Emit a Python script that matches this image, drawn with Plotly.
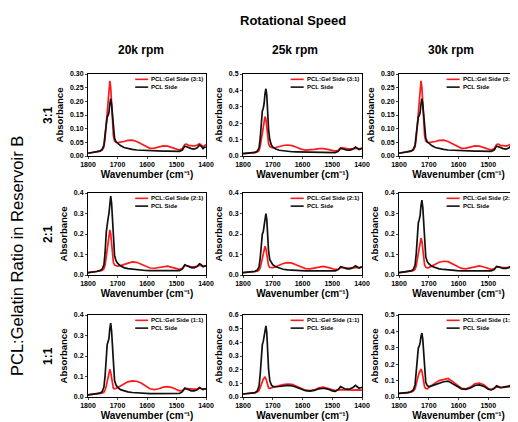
import plotly.graph_objects as go

# ---------------- data ----------------
WN = [1800, 1785, 1770, 1760, 1752,
      1746, 1742, 1738, 1735, 1732,
      1729, 1726, 1723, 1720, 1717,
      1714, 1710, 1705, 1700, 1690,
      1678, 1665, 1650, 1635, 1620,
      1605, 1590, 1575, 1560, 1545,
      1530, 1515, 1500, 1490, 1480,
      1472, 1466, 1458, 1450, 1440,
      1430, 1422, 1416, 1410, 1405,
      1400]

speeds = ["20k rpm", "25k rpm", "30k rpm"]
ratios = ["3:1", "2:1", "1:1"]

# row 1 (3:1)
gel_20k_31 = [.010, .012, .015, .018, .022, .033, .065, .115, .155, .190,
              .230, .275, .250, .190, .120, .075, .055, .050, .049, .050,
              .053, .057, .058, .053, .044, .034, .028, .029, .033, .037,
              .036, .031, .025, .022, .027, .042, .043, .038, .038, .036,
              .040, .045, .040, .034, .038, .042]
pcl_20k_31 = [.010, .012, .015, .018, .024, .040, .080, .125, .143, .148,
              .160, .190, .210, .188, .140, .090, .065, .052, .046, .038,
              .031, .027, .024, .022, .021, .020, .019, .019, .018, .018,
              .018, .017, .016, .017, .022, .036, .034, .030, .027, .025,
              .030, .040, .036, .027, .032, .033]
gel_25k_31 = [.015, .016, .018, .020, .024, .034, .060, .110, .150, .175,
              .205, .240, .225, .170, .110, .075, .058, .052, .050, .052,
              .058, .064, .067, .063, .053, .042, .036, .036, .040, .045,
              .045, .040, .033, .030, .035, .050, .050, .046, .045, .044,
              .045, .050, .047, .044, .046, .048]
pcl_25k_31 = [.015, .016, .018, .022, .030, .050, .110, .220, .275, .290,
              .320, .380, .410, .370, .260, .160, .100, .068, .055, .043,
              .035, .031, .028, .026, .025, .024, .023, .023, .022, .022,
              .022, .021, .020, .021, .028, .046, .044, .040, .036, .036,
              .042, .055, .050, .040, .043, .046]
gel_30k_31 = [.010, .012, .015, .018, .022, .033, .065, .115, .155, .190,
              .230, .275, .250, .190, .120, .075, .055, .050, .049, .050,
              .053, .057, .058, .053, .044, .034, .028, .029, .033, .037,
              .036, .031, .025, .022, .027, .042, .043, .038, .038, .036,
              .040, .045, .040, .034, .038, .042]
pcl_30k_31 = [.010, .012, .015, .018, .024, .040, .080, .125, .143, .148,
              .160, .190, .210, .188, .140, .090, .065, .052, .046, .038,
              .031, .027, .024, .022, .021, .020, .019, .019, .018, .018,
              .018, .017, .016, .017, .022, .036, .034, .030, .027, .025,
              .030, .040, .036, .027, .032, .033]

# row 2 (2:1)
gel_20k_21 = [.012, .014, .017, .019, .022, .030, .050, .090, .130, .160,
              .190, .220, .200, .150, .095, .062, .048, .044, .043, .046,
              .052, .060, .064, .062, .053, .043, .034, .033, .037, .042,
              .043, .037, .030, .028, .033, .046, .045, .041, .040, .040,
              .042, .048, .045, .042, .044, .045]
pcl_20k_21 = [.012, .014, .017, .021, .028, .050, .110, .210, .260, .275,
              .300, .355, .385, .350, .250, .150, .095, .070, .058, .045,
              .036, .031, .028, .025, .023, .022, .021, .021, .020, .020,
              .020, .020, .019, .021, .030, .050, .046, .040, .036, .035,
              .042, .055, .050, .040, .045, .046]
gel_25k_21 = [.012, .013, .015, .017, .019, .024, .035, .060, .085, .105,
              .125, .140, .128, .095, .062, .045, .037, .035, .036, .040,
              .048, .056, .060, .058, .049, .038, .031, .030, .034, .040,
              .042, .037, .030, .027, .028, .036, .037, .034, .034, .034,
              .035, .039, .037, .035, .037, .038]
pcl_25k_21 = [.012, .013, .015, .018, .024, .040, .085, .160, .200, .210,
              .235, .280, .300, .270, .190, .115, .075, .058, .050, .040,
              .033, .028, .025, .023, .022, .021, .020, .020, .020, .020,
              .020, .020, .019, .020, .026, .040, .038, .033, .030, .030,
              .036, .045, .040, .034, .038, .040]
gel_30k_21 = [.012, .014, .016, .018, .021, .028, .045, .080, .110, .135,
              .160, .180, .165, .120, .075, .050, .038, .035, .036, .042,
              .052, .062, .067, .065, .055, .042, .032, .030, .035, .042,
              .044, .039, .031, .028, .030, .040, .040, .037, .036, .036,
              .037, .041, .039, .037, .039, .040]
pcl_30k_21 = [.012, .014, .016, .020, .027, .048, .105, .200, .255, .270,
              .290, .340, .365, .330, .235, .140, .088, .065, .055, .043,
              .035, .030, .027, .024, .022, .021, .020, .020, .019, .019,
              .019, .019, .018, .020, .027, .042, .040, .035, .032, .032,
              .037, .045, .041, .035, .039, .041]

# row 3 (1:1)
gel_20k_11 = [.010, .012, .015, .017, .019, .024, .035, .055, .080, .100,
              .120, .135, .120, .085, .055, .042, .040, .042, .045, .054,
              .065, .074, .079, .077, .068, .052, .040, .036, .040, .048,
              .051, .046, .034, .030, .032, .040, .041, .039, .038, .038,
              .040, .043, .041, .039, .040, .041]
pcl_20k_11 = [.010, .012, .015, .019, .026, .048, .105, .205, .255, .270,
              .285, .335, .360, .320, .225, .130, .080, .058, .048, .036,
              .029, .025, .022, .020, .018, .017, .016, .016, .016, .015,
              .015, .015, .015, .017, .026, .044, .040, .034, .030, .030,
              .035, .046, .042, .036, .039, .040]
gel_25k_11 = [.022, .024, .027, .030, .036, .048, .070, .100, .120, .130,
              .138, .145, .135, .105, .078, .066, .064, .068, .072, .078,
              .084, .090, .095, .092, .080, .063, .050, .046, .052, .068,
              .072, .062, .050, .047, .052, .056, .054, .052, .050, .051,
              .050, .052, .051, .050, .051, .050]
pcl_25k_11 = [.022, .024, .027, .032, .045, .080, .170, .310, .385, .405,
              .440, .500, .520, .470, .330, .200, .120, .090, .078, .075,
              .077, .082, .085, .082, .072, .058, .046, .043, .048, .060,
              .064, .058, .045, .042, .055, .076, .070, .060, .058, .060,
              .070, .085, .075, .064, .068, .070]
gel_30k_11 = [.022, .024, .027, .030, .036, .050, .080, .115, .140, .150,
              .158, .170, .158, .120, .085, .062, .052, .050, .058, .072,
              .085, .100, .108, .113, .095, .072, .052, .050, .060, .080,
              .084, .075, .052, .046, .055, .062, .060, .056, .058, .060,
              .063, .068, .065, .060, .063, .064]
pcl_30k_11 = [.022, .024, .027, .032, .043, .075, .150, .250, .300, .310,
              .330, .370, .390, .350, .250, .150, .090, .070, .063, .068,
              .075, .085, .093, .097, .080, .064, .050, .047, .055, .070,
              .074, .065, .048, .043, .052, .068, .064, .058, .060, .062,
              .066, .075, .068, .060, .063, .065]

gel_series = [[gel_20k_31, gel_25k_31, gel_30k_31],
              [gel_20k_21, gel_25k_21, gel_30k_21],
              [gel_20k_11, gel_25k_11, gel_30k_11]]
pcl_series = [[pcl_20k_31, pcl_25k_31, pcl_30k_31],
              [pcl_20k_21, pcl_25k_21, pcl_30k_21],
              [pcl_20k_11, pcl_25k_11, pcl_30k_11]]

y_max = [[0.30, 0.5, 0.30],
         [0.4, 0.4, 0.4],
         [0.4, 0.6, 0.5]]
y_step = [[0.05, 0.1, 0.05],
          [0.1, 0.1, 0.1],
          [0.1, 0.1, 0.1]]
x_ticks = [1800, 1700, 1600, 1500, 1400]

# ---------------- layout ----------------
# the page body adds an 8px offset; positions below are window pixels
OFF = 8
W, H = 518 - OFF, 422 - OFF
col_px = [(88, 206), (243, 362), (399, 518)]
row_px = [(74, 156), (193, 275), (315, 397)]
header_x = [141, 295, 451]
FONT = "Liberation Sans, Arial, sans-serif"
RED = "#ff1a1a"
BLACK = "#111111"


def px_x(v):
    return (v - OFF) / W


def px_y(v):
    return 1 - (v - OFF) / H


fig = go.Figure()
annotations = []
shapes = []
layout_axes = {}

for r in range(3):
    for c in range(3):
        k = r * 3 + c + 1
        xa = "x" if k == 1 else f"x{k}"
        ya = "y" if k == 1 else f"y{k}"
        xkey = "xaxis" if k == 1 else f"xaxis{k}"
        ykey = "yaxis" if k == 1 else f"yaxis{k}"
        fig.add_trace(go.Scatter(x=WN, y=gel_series[r][c], mode="lines",
                                 line=dict(color=RED, width=1.7),
                                 name=f"PCL:Gel Side ({ratios[r]})",
                                 showlegend=False, xaxis=xa, yaxis=ya))
        fig.add_trace(go.Scatter(x=WN, y=pcl_series[r][c], mode="lines",
                                 line=dict(color=BLACK, width=1.7),
                                 name="PCL Side",
                                 showlegend=False, xaxis=xa, yaxis=ya))
        x0, x1 = col_px[c]
        y0, y1 = row_px[r]
        step = y_step[r][c]
        layout_axes[xkey] = dict(
            domain=[px_x(x0), min(1.0, px_x(x1))], anchor=ya, range=[1800, 1400],
            tickvals=x_ticks, ticks="outside", ticklen=2, tickwidth=1,
            showline=True, linecolor="black", linewidth=1, mirror=True,
            showgrid=False, zeroline=False,
            tickfont=dict(family=FONT, size=7, color="black", weight="bold"),
            title=dict(text="Wavenumber (cm\u207b\u00b9)", standoff=3,
                       font=dict(family=FONT, size=10, color="black", weight="bold")),
            automargin=False)
        layout_axes[ykey] = dict(
            domain=[px_y(y1), px_y(y0)], anchor=xa,
            range=[0, y_max[r][c]], dtick=step,
            tickformat=".2f" if step < 0.1 else ".1f",
            ticks="outside", ticklen=2, tickwidth=1,
            showline=True, linecolor="black", linewidth=1, mirror=True,
            showgrid=False, zeroline=False,
            tickfont=dict(family=FONT, size=7, color="black", weight="bold"),
            title=dict(text="Absorbance", standoff=4,
                       font=dict(family=FONT, size=9.5, color="black", weight="bold")),
            automargin=False)
        # in-panel legend
        for txt, col, yy in [(f"PCL:Gel Side ({ratios[r]})", RED, 0.935),
                             ("PCL Side", BLACK, 0.84)]:
            shapes.append(dict(type="line", xref=f"{xa} domain", yref=f"{ya} domain",
                               x0=0.40, x1=0.51, y0=yy, y1=yy,
                               line=dict(color=col, width=1.6)))
            annotations.append(dict(text=txt, xref=f"{xa} domain", yref=f"{ya} domain",
                                    x=0.52, y=yy, xanchor="left", yanchor="middle",
                                    showarrow=False,
                                    font=dict(family=FONT, size=6, color="black",
                                              weight="bold")))

# headers
annotations.append(dict(text="Rotational Speed", xref="paper", yref="paper",
                        x=px_x(293), y=px_y(20), xanchor="center", yanchor="middle",
                        showarrow=False,
                        font=dict(family=FONT, size=13, color="black", weight="bold")))
for c in range(3):
    annotations.append(dict(text=speeds[c], xref="paper", yref="paper",
                            x=px_x(header_x[c]), y=px_y(50),
                            xanchor="center", yanchor="middle", showarrow=False,
                            font=dict(family=FONT, size=12, color="black", weight="bold")))
for r in range(3):
    y0, y1 = row_px[r]
    annotations.append(dict(text=ratios[r], xref="paper", yref="paper",
                            x=px_x(48), y=px_y((y0 + y1) / 2), textangle=-90,
                            xanchor="center", yanchor="middle", showarrow=False,
                            font=dict(family=FONT, size=12, color="black", weight="bold")))
annotations.append(dict(text="PCL:Gelatin Ratio in Reservoir B", xref="paper", yref="paper",
                        x=px_x(17), y=px_y(256), textangle=-90,
                        xanchor="center", yanchor="middle", showarrow=False,
                        font=dict(family=FONT, size=16.5, color="black")))

fig.update_layout(width=W, height=H, margin=dict(l=0, r=0, t=0, b=0),
                  paper_bgcolor="white", plot_bgcolor="white",
                  showlegend=False, annotations=annotations, shapes=shapes,
                  **layout_axes)

fig.write_html("out.html")
